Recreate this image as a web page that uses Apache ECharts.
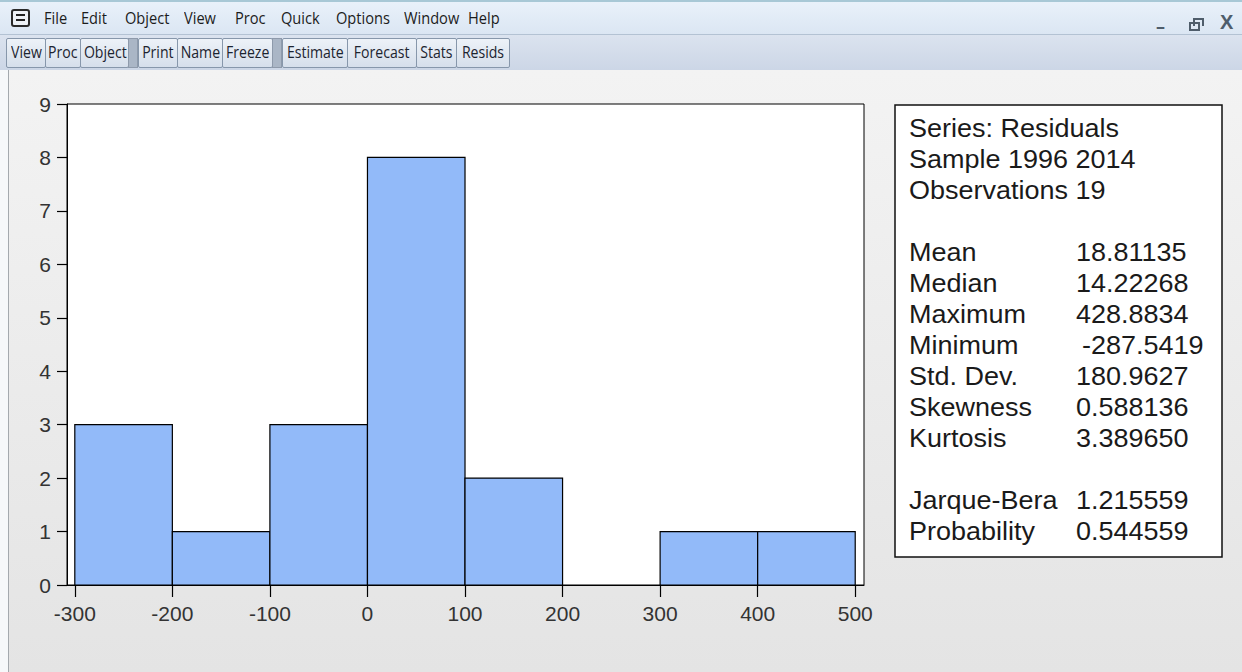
<!DOCTYPE html>
<html><head><meta charset="utf-8">
<script src="https://cdn.jsdelivr.net/npm/echarts@6/dist/echarts.min.js"></script>
<style>
html,body{margin:0;padding:0;width:1242px;height:672px;overflow:hidden;font-family:"Open Sans",sans-serif}
#menubar{position:absolute;left:0;top:0;width:1242px;height:35px;background:linear-gradient(#e9f1fa,#dbe6f3);border-top:2px solid #a8c8d6;box-sizing:border-box;border-bottom:1px solid #b3c2d3}
#toolbar{position:absolute;left:0;top:35px;width:1242px;height:35px;background:linear-gradient(#dbe3ef,#ccd6e6);}
#content{position:absolute;left:0;top:70px;width:1242px;height:602px;background:linear-gradient(#f3f3f3,#e4e4e4)}
#leftedge{position:absolute;left:0;top:70px;width:8px;height:602px;background:#f6f8fa;border-right:1px solid #a4a9ae}
.menu{position:absolute;top:6px;font-size:17px;color:#1c1c1c;line-height:24px;transform:scaleX(0.86);transform-origin:0 0;white-space:nowrap}
.btn{position:absolute;top:38px;height:30px;box-sizing:border-box;border:1px solid #8797ab;border-radius:2px;background:linear-gradient(#edf2f8,#d6dfeb);font-size:16px;line-height:27px;text-align:center;color:#1c2430;white-space:nowrap;overflow:hidden}
.btn span{display:inline-block;transform:scaleX(0.88)}
.sep{position:absolute;top:38px;height:30px;box-sizing:border-box;background:#aab6c6;border:1px solid #8e9aab}
#icon{position:absolute;left:11px;top:9px;width:19px;height:18px;box-sizing:border-box;border:2px solid #2a2a2a;border-radius:3px;background:#eef2f7}
#icon:before{content:"";position:absolute;left:3px;top:3px;width:9px;height:2px;background:#222;box-shadow:0 5px 0 #222}
.ctl{position:absolute;top:16px;color:#4f5d6b;font-weight:bold}
#c{position:absolute;left:0;top:0;width:1242px;height:672px}
</style>
</head><body>
<div id="menubar"></div><div id="toolbar"></div><div id="content"></div><div id="leftedge"></div>
<div id="icon"></div>
<div class="ctl" style="left:1156px;top:14px;font-size:18px">–</div>
<div class="ctl" style="left:1189px;top:22px;width:11px;height:9px;border:2px solid #4f5d6b;box-sizing:border-box"></div>
<div class="ctl" style="left:1193px;top:18px;width:11px;height:8px;border:2px solid #4f5d6b;border-bottom:none;box-sizing:border-box"></div>
<div class="ctl" style="left:1220px;top:11px;font-size:20px;font-family:'Liberation Sans'">X</div>
<div id="c"></div>
<script>
// ---- data ----
const binStart = [-300, -200, -100, 0, 100, 200, 300, 400];
const binEnd   = [-200, -100, 0, 100, 200, 300, 400, 500];
const counts   = [3, 1, 3, 8, 2, 0, 1, 1];
const xTicks   = [-300, -200, -100, 0, 100, 200, 300, 400, 500];
const yTicks   = [0, 1, 2, 3, 4, 5, 6, 7, 8, 9];
const menuItems = ['File', 'Edit', 'Object', 'View', 'Proc', 'Quick', 'Options', 'Window', 'Help'];
const toolbarItems = ['View', 'Proc', 'Object', '|', 'Print', 'Name', 'Freeze', '|', 'Estimate', 'Forecast', 'Stats', 'Resids'];
const statsHeader = ['Series: Residuals', 'Sample 1996 2014', 'Observations 19'];
const statsLabels = ['Mean', 'Median', 'Maximum', 'Minimum', 'Std. Dev.', 'Skewness', 'Kurtosis'];
const statsValues = ['18.81135', '14.22268', '428.8834', '-287.5419', '180.9627', '0.588136', '3.389650'];
const testLabels = ['Jarque-Bera', 'Probability'];
const testValues = ['1.215559', '0.544559'];

// ---- window chrome (layout) ----
const menuX = [44, 81, 125, 184, 235, 281, 336, 404, 468];
menuItems.forEach((t, i) => {
  const d = document.createElement('div'); d.className = 'menu'; d.textContent = t;
  d.style.left = menuX[i] + 'px'; document.body.insertBefore(d, document.getElementById('c'));
});
const btnEdges = [6, 45, 80, 128, 138, 177, 222, 272, 282, 347, 416, 456, 509];
toolbarItems.forEach((t, i) => {
  const d = document.createElement('div');
  d.className = t === '|' ? 'sep' : 'btn';
  if (t !== '|') { const s = document.createElement('span'); s.textContent = t; d.appendChild(s); }
  d.style.left = btnEdges[i] + 'px'; d.style.width = (btnEdges[i + 1] - btnEdges[i] + (t === '|' ? 0 : 1)) + 'px';
  document.body.insertBefore(d, document.getElementById('c'));
});

// ---- chart ----
const histData = binStart.map((s, i) => [s, binEnd[i], counts[i]]);
const FONT = 'Liberation Sans';
const graphics = [];
graphics.push({type: 'rect', shape: {x: 895, y: 105, width: 327, height: 452},
  style: {fill: '#fff', stroke: '#111', lineWidth: 1.5}, z: 10});
const lineH = 31, y0 = 128, labX = 909, valX = 1076;
const rows = [];
statsHeader.forEach(t => rows.push([t, null]));
rows.push(null);
statsLabels.forEach((t, i) => rows.push([t, statsValues[i]]));
rows.push(null);
testLabels.forEach((t, i) => rows.push([t, testValues[i]]));
const txtStyle = t => ({text: t, font: '25px "' + FONT + '"', fill: '#1a1a1a', verticalAlign: 'middle', textVerticalAlign: 'middle'});
rows.forEach((r, i) => {
  if (!r) return;
  const y = y0 + i * lineH;
  graphics.push({type: 'text', x: labX, y: y, z: 11, scaleX: 1.08, style: txtStyle(r[0])});
  if (r[1] !== null) {
    graphics.push({type: 'text', x: valX + (r[1].startsWith('-') ? 6 : 0), y: y, z: 11, scaleX: 1.08, style: txtStyle(r[1])});
  }
});

const chart = echarts.init(document.getElementById('c'), null, {renderer: 'svg'});
chart.setOption({
  backgroundColor: 'transparent',
  animation: false,
  grid: {left: 67, right: 378, top: 104, bottom: 87, show: true, backgroundColor: '#fff', borderColor: '#000', borderWidth: 1},
  xAxis: {
    type: 'value', min: -308, max: 509,
    axisLine: {show: true, onZero: false, lineStyle: {color: '#000', width: 1}},
    axisTick: {show: true, customValues: xTicks, length: 12, lineStyle: {color: '#000', width: 1.2}},
    axisLabel: {customValues: xTicks, fontSize: 21, fontFamily: FONT, color: '#333', margin: 18},
    splitLine: {show: false}
  },
  yAxis: {
    type: 'value', min: 0, max: 9, interval: 1,
    axisLine: {show: true, onZero: false, lineStyle: {color: '#000', width: 1}},
    axisTick: {show: true, length: 10, lineStyle: {color: '#000', width: 1.2}},
    axisLabel: {fontSize: 21, fontFamily: FONT, color: '#333', margin: 16,
      formatter: v => yTicks.includes(v) ? String(v) : ''},
    splitLine: {show: false}
  },
  series: [{
    type: 'custom',
    data: histData,
    encode: {x: [0, 1], y: 2},
    renderItem: (params, api) => {
      const c = api.value(2);
      if (!c) return {type: 'group', children: []};
      const p0 = api.coord([api.value(0), c]);
      const p1 = api.coord([api.value(1), 0]);
      return {type: 'rect', shape: {x: p0[0], y: p0[1], width: p1[0] - p0[0], height: p1[1] - p0[1]},
        style: {fill: '#92baf9', stroke: '#000', lineWidth: 1.2}};
    }
  }],
  graphic: graphics
});
</script>
</body></html>
